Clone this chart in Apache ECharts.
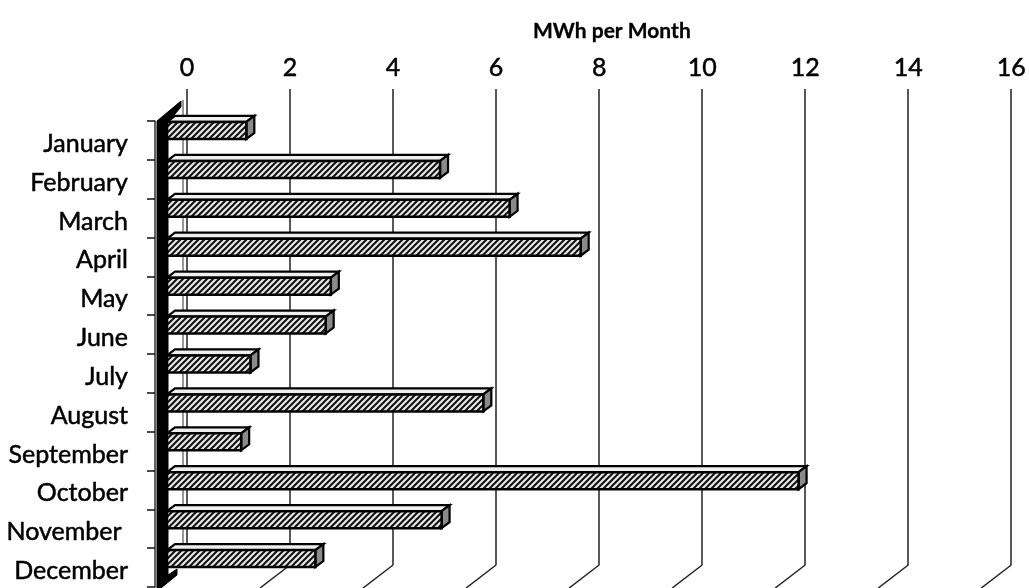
<!DOCTYPE html>
<html><head><meta charset="utf-8">
<script src="https://cdn.jsdelivr.net/npm/echarts@6/dist/echarts.min.js"></script>
<style>html,body{margin:0;padding:0;background:#fff}#c{width:1029px;height:588px}</style>
</head><body><div id="c"></div>
<script>
const months = ['January','February','March','April','May','June','July','August','September','October','November ','December'];
const mwh = [1.54, 5.30, 6.65, 8.03, 3.18, 3.08, 1.62, 6.14, 1.44, 12.26, 5.33, 2.88];
const xTicks = [0, 2, 4, 6, 8, 10, 12, 14, 16];
const titleText = 'MWh per Month';

function hatch() {
  const c = document.createElement('canvas'); c.width = 6; c.height = 6;
  const g = c.getContext('2d');
  g.fillStyle = '#e6e6e6'; g.fillRect(0, 0, 6, 6);
  g.strokeStyle = '#111'; g.lineWidth = 2;
  g.beginPath();
  g.moveTo(-1, 7); g.lineTo(7, -1);
  g.moveTo(-1, 1); g.lineTo(1, -1);
  g.moveTo(5, 7); g.lineTo(7, 5);
  g.stroke();
  return c;
}
const pattern = { image: hatch(), repeat: 'repeat' };
const FONT = 'Lato';

const chart = echarts.init(document.getElementById('c'), null, { renderer: 'canvas' });
chart.setOption({
  animation: false,
  backgroundColor: '#fff',
  title: { text: titleText, left: 528, top: 16, textStyle: { fontFamily: FONT, fontSize: 21, fontWeight: 'bold', color: '#000', textBorderColor: '#000', textBorderWidth: 0.3 } },
  grid: [
    { left: 187, right: 14, top: 98, bottom: 23 },
    { left: 155, right: 44, top: 121, bottom: 1 }
  ],
  xAxis: [
    { gridIndex: 0, type: 'value', position: 'top', min: 0, max: 16, interval: 2,
      axisLine: { show: false },
      axisTick: { show: true, length: 9, lineStyle: { color: '#222', width: 1.5 } },
      axisLabel: { fontFamily: FONT, fontSize: 25, color: '#000', margin: 18, textBorderColor: '#000', textBorderWidth: 0.5 },
      splitLine: { show: true, lineStyle: { color: '#222', width: 1.5 } } },
    { gridIndex: 1, type: 'value', min: 0, max: 16, show: false }
  ],
  yAxis: [
    { gridIndex: 0, type: 'category', data: months, inverse: true, show: false },
    { gridIndex: 1, type: 'category', data: months, inverse: true,
      axisLine: { show: true, lineStyle: { color: '#333', width: 1.5 } },
      axisTick: { show: true, length: 8, lineStyle: { color: '#111', width: 1.5 } },
      axisLabel: { margin: 27, formatter: v => '{a|' + v + '}',
        rich: { a: { fontFamily: FONT, fontSize: 25, color: '#000', padding: [7, 0, 0, 0], textBorderColor: '#000', textBorderWidth: 0.5 } } },
      splitLine: { show: false } }
  ],
  series: [
    { type: 'custom', xAxisIndex: 0, yAxisIndex: 0, z: 1, silent: true,
      data: [[0, 0]],
      renderItem(params, api) {
        const cs = params.coordSys;
        const X = cs.x, Y = cs.y, B = cs.y + cs.height;
        return { type: 'group', children: [
          { type: 'polygon', shape: { points: [[X - 30, Y + 23], [X - 6, Y + 3], [X - 6, Y + 9], [X - 19, Y + 24], [X - 19, B + 10], [X - 10, B + 4], [X - 10, B + 10], [X - 26, B + 23], [X - 30, B + 23]] },
            style: { fill: '#000', stroke: '#000', lineWidth: 1 } },
          { type: 'line', shape: { x1: X - 4, y1: Y + 2, x2: X - 4, y2: B + 3 }, style: { stroke: '#333', lineWidth: 1 } }
        ] };
      } },
    { type: 'custom', xAxisIndex: 0, yAxisIndex: 0, z: 1, silent: true,
      data: xTicks.filter(t => t > 0).map(t => [t, 0]),
      renderItem(params, api) {
        const cs = params.coordSys;
        const p = api.coord([api.value(0), 0]);
        const B = cs.y + cs.height;
        return { type: 'line', shape: { x1: p[0], y1: B, x2: p[0] - 30, y2: B + 23 }, style: { stroke: '#222', lineWidth: 1.5 } };
      } },
    { type: 'custom', xAxisIndex: 0, yAxisIndex: 0, z: 3, silent: true,
      data: mwh.map((v, i) => [v, i]),
      encode: { x: 0, y: 1 },
      renderItem(params, api) {
        const v = api.value(0), c = api.value(1);
        const p0 = api.coord([0, c]), p1 = api.coord([v, c]);
        const dx = -20, dy = 13, h = 17, ox = 8, oy = -6;
        const x0 = p0[0] + dx, x1 = p1[0] + dx, yt = p0[1] + dy - h / 2, yb = yt + h;
        return { type: 'group', children: [
          { type: 'polygon', shape: { points: [[x0, yt], [x1, yt], [x1 + ox, yt + oy], [x0 + ox, yt + oy]] }, style: { fill: '#efefef', stroke: '#000', lineWidth: 2.2 } },
          { type: 'polygon', shape: { points: [[x1, yt], [x1 + ox, yt + oy], [x1 + ox, yb + oy], [x1, yb]] }, style: { fill: '#8a8a8a', stroke: '#000', lineWidth: 2.2 } },
          { type: 'rect', shape: { x: x0, y: yt, width: x1 - x0, height: h }, style: { fill: pattern, stroke: '#000', lineWidth: 2.5 } }
        ] };
      } }
  ]
});
</script></body></html>
